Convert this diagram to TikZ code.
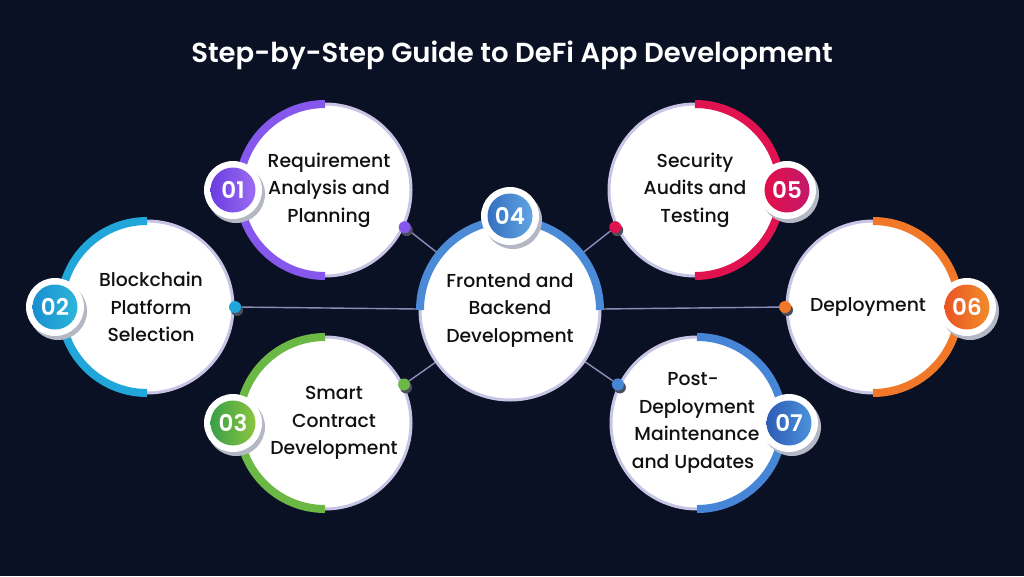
\documentclass[tikz,border=0pt]{standalone}
\usepackage{fontspec}
\setmainfont{Poppins}[UprightFont={Poppins Medium},BoldFont={Poppins SemiBold}]
\usetikzlibrary{calc,backgrounds}
\definecolor{bg}{HTML}{0B1124}
\definecolor{rim}{HTML}{C8C4E6}
\definecolor{linec}{HTML}{8E8CB8}
\definecolor{textc}{HTML}{111111}
\definecolor{bshadow}{HTML}{B4B7C4}
\definecolor{dshadow}{HTML}{4A4F5E}
\definecolor{purA}{HTML}{6A3DE0}\definecolor{purB}{HTML}{9C6DF2}\definecolor{purC}{HTML}{8657EC}
\definecolor{cyaA}{HTML}{1A8ED0}\definecolor{cyaB}{HTML}{2DB6DA}\definecolor{cyaC}{HTML}{20A6D8}
\definecolor{grnA}{HTML}{3A9F48}\definecolor{grnB}{HTML}{8CC63F}\definecolor{grnC}{HTML}{6CB845}
\definecolor{bluA}{HTML}{3570C0}\definecolor{bluB}{HTML}{62A4E2}\definecolor{bluC}{HTML}{4A8AD6}
\definecolor{redA}{HTML}{E3104A}\definecolor{redB}{HTML}{C2186A}\definecolor{redC}{HTML}{E0124F}
\definecolor{oraA}{HTML}{EA5524}\definecolor{oraB}{HTML}{F28C2A}\definecolor{oraC}{HTML}{F07828}
\definecolor{dbuA}{HTML}{2D5CB5}\definecolor{dbuB}{HTML}{4C92DA}\definecolor{dbuC}{HTML}{4786D6}
\begin{document}
\begin{tikzpicture}[x=1pt,y=1pt,
  bigc/.style={circle, fill=white, draw=rim, line width=3pt, minimum size=172pt, inner sep=0pt,
    align=center, text=textc, font=\fontsize{18.8}{27.5}\selectfont},
  ring/.style={circle, fill=white, minimum size=58pt, inner sep=0pt},
  numc/.style={circle, minimum size=45pt, inner sep=0pt, text=white,
    font=\bfseries\fontsize{23}{23}\selectfont},
  dotc/.style={circle, minimum size=12pt, inner sep=0pt},
  arcst/.style={line width=8pt},
  conn/.style={draw=linec, line width=1.4pt},
  titlest/.style={text=white, font=\bfseries\fontsize{27.5}{32}\selectfont}]
\begin{scope}[on background layer]
\fill[bg] (0,0) rectangle (1024,-576);
\end{scope}
\useasboundingbox (0,0) rectangle (1024,-576);

\node[titlest] (title) at (512,-55) {Step-by-Step Guide to DeFi App Development};

% centres
\coordinate (p1) at (325,-190);
\coordinate (p2) at (147,-307);
\coordinate (p3) at (325,-423);
\coordinate (p4) at (510,-310);
\coordinate (p5) at (695,-190);
\coordinate (p6) at (873,-307);
\coordinate (p7) at (697,-423);

% big circles
\node[bigc] (c1) at (p1) {\hspace*{8pt}Requirement\\\hspace*{8pt}Analysis and\\\hspace*{8pt}Planning};
\draw[arcst, purC] ($(p1)+(90:86)$) arc[start angle=90, end angle=270, radius=86];
\node[bigc] (c2) at (p2) {\hspace*{8pt}Blockchain\\\hspace*{8pt}Platform\\\hspace*{8pt}Selection};
\draw[arcst, cyaC] ($(p2)+(90:86)$) arc[start angle=90, end angle=270, radius=86];
\node[bigc] (c3) at (p3) {\hspace*{18pt}Smart\\\hspace*{18pt}Contract\\\hspace*{18pt}Development};
\draw[arcst, grnC] ($(p3)+(90:86)$) arc[start angle=90, end angle=270, radius=86];
\node[bigc] (c5) at (p5) {Security\\Audits and\\Testing\hspace*{0pt}};
\draw[arcst, redC] ($(p5)+(90:86)$) arc[start angle=90, end angle=-90, radius=86];
\node[bigc] (c6) at (p6) {Deployment\hspace*{10pt}};
\draw[arcst, oraC] ($(p6)+(90:86)$) arc[start angle=90, end angle=-90, radius=86];
\node[bigc] (c7) at (p7) {Post-\hspace*{8pt}\\Deployment\hspace*{8pt}\\Maintenance\hspace*{8pt}\\and Updates\hspace*{8pt}};
\draw[arcst, dbuC] ($(p7)+(90:86)$) arc[start angle=90, end angle=-90, radius=86];
\node[bigc, minimum size=180pt] (c4) at (p4) {Frontend and\\Backend\\Development};
\draw[arcst, bluC] ($(p4)+(180:90)$) arc[start angle=180, end angle=0, radius=90];

% badges
\foreach \i/\ang/\d/\ca/\cb in {1/180/92/purA/purB, 2/180/92/cyaA/cyaB, 3/180/92/grnA/grnB,
    4/90/94/bluA/bluB, 5/0/92/redA/redB, 6/0/94/oraA/oraB, 7/0/92/dbuA/dbuB}{
  \coordinate (q\i) at ($(p\i)+(\ang:\d)$);
  \fill[bshadow] ($(q\i)+(3,-4)$) circle[radius=29];
  \node[ring] (r\i) at (q\i) {};
  \node[numc, left color=\ca, right color=\cb] (b\i) at (q\i) {0\i};
}

% dots
\foreach \i/\ang/\col in {1/-25/purC, 2/0/cyaC, 3/26/grnC, 5/205/redC, 6/180/oraC, 7/154/dbuC}{
  \coordinate (e\i) at ($(p\i)+(\ang:88)$);
  \fill[dshadow] ($(e\i)+(2,-3)$) circle[radius=6];
  \node[dotc, fill=\col] (d\i) at (e\i) {};
}

% connectors
\begin{scope}[on background layer]
\draw[conn] (d1) -- (c4);
\draw[conn] (d2) -- (c4);
\draw[conn] (d3) -- (c4);
\draw[conn] (d5) -- (c4);
\draw[conn] (c4) -- (d6);
\draw[conn] (d7) -- (c4);
\end{scope}
\end{tikzpicture}
\end{document}
